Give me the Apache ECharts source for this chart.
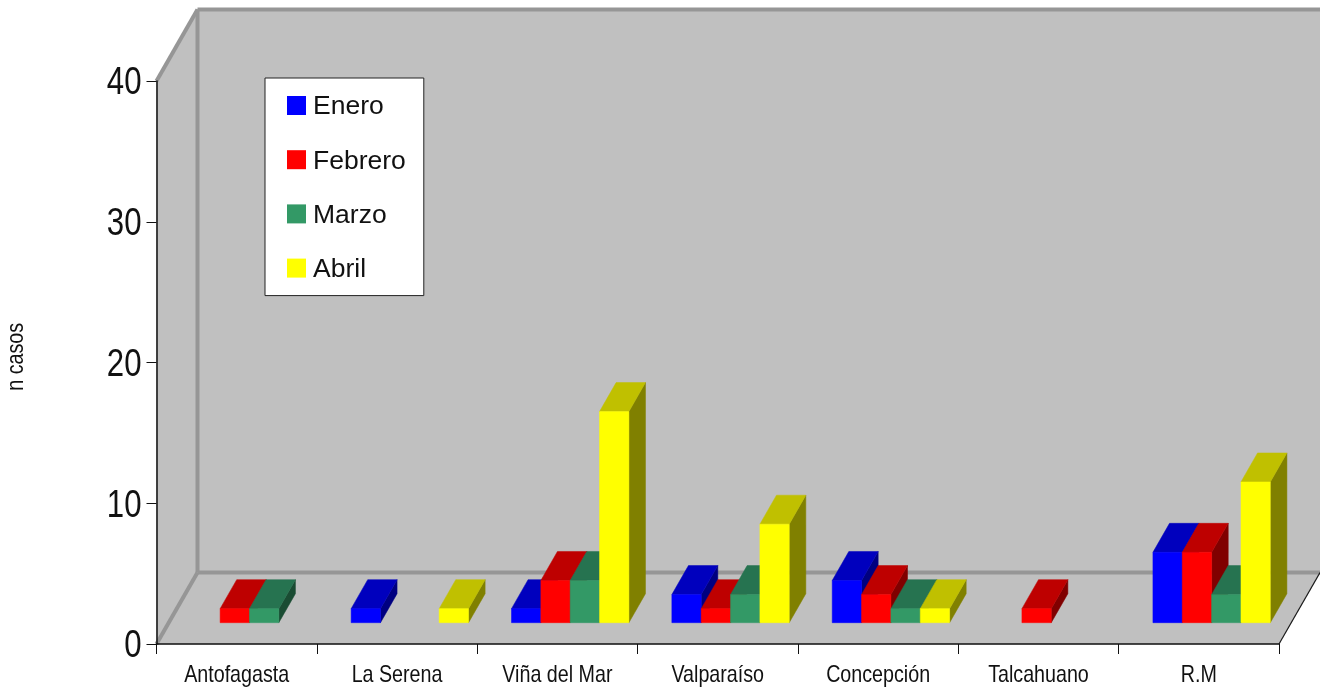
<!DOCTYPE html>
<html><head><meta charset="utf-8">
<style>html,body{margin:0;padding:0;background:#fff}#c{width:1320px;height:690px}</style>
<script src="https://cdn.jsdelivr.net/npm/echarts@6/dist/echarts.min.js"></script>
</head><body><div id="c"></div>
<script>
const categories = ['Antofagasta','La Serena','Viña del Mar','Valparaíso','Concepción','Talcahuano','R.M'];
const enero   = [0,1,1,2,3,0,5];
const febrero = [1,0,3,1,2,1,5];
const marzo   = [1,0,3,2,1,0,2];
const abril   = [0,1,15,7,1,0,10];
const seriesNames = ['Enero','Febrero','Marzo','Abril'];
const yTickLabels = ['0','10','20','30','40'];
const yTicks = {min:0,max:40,interval:10};
const yTitle = 'n casos';

const DEPTH = [41,-71.5], BAR_OFF = [12.8,-21.3], BAR_D = [16.6,-29], GROUP = 0.732;
const NARROW = 0.82;
const shade = [
  {front:'#0000FF',top:'#0000BE',side:'#000080'},
  {front:'#FF0000',top:'#BE0000',side:'#800000'},
  {front:'#339966',top:'#267350',side:'#1A4C33'},
  {front:'#FFFF00',top:'#C0C000',side:'#808000'}
];
function poly(pts,fill,z2){return {type:'polygon',z2:z2||0,shape:{points:pts},style:{fill:fill,stroke:fill,lineWidth:0.5}};}
function barSeries(name,vals,si){
  return {name:name,type:'custom',z:2,silent:true,
    itemStyle:{color:shade[si].front},
    encode:{x:0,y:1},
    data:vals.map((v,i)=>[i,v]),
    renderItem(params,api){
      const v=api.value(1); if(!v) return null;
      const cat=api.value(0), w=api.size([1,0])[0]*GROUP/4;
      const b=api.coord([cat,0]), t=api.coord([cat,v]);
      const x0=b[0]-2*w+si*w+BAR_OFF[0], x1=x0+w;
      const y0=b[1]+BAR_OFF[1], y1=t[1]+BAR_OFF[1];
      const c=shade[si], dx=BAR_D[0], dy=BAR_D[1];
      return {type:'group',children:[
        poly([[x1,y0],[x1+dx,y0+dy],[x1+dx,y1+dy],[x1,y1]],c.side),
        poly([[x0,y1],[x1,y1],[x1+dx,y1+dy],[x0+dx,y1+dy]],c.top),
        poly([[x0,y0],[x1,y0],[x1,y1],[x0,y1]],c.front)
      ]};
    }};
}
const wallSeries={type:'custom',z:1,silent:true,clip:false,data:[[0,0]],encode:{x:0,y:1},
  renderItem(params,api){
    const hw=api.size([1,0])[0]/2, n=categories.length;
    const p0=api.coord([0,yTicks.min]), p1=api.coord([0,yTicks.max]);
    const L=p0[0]-hw, R=L+hw*2*n, B=p0[1], T=p1[1], dx=DEPTH[0], dy=DEPTH[1];
    const W='#C0C0C0', G='#969696';
    const ln=(a,b,c,lw)=>({type:'line',shape:{x1:a[0],y1:a[1],x2:b[0],y2:b[1]},style:{stroke:c,lineWidth:lw}});
    return {type:'group',children:[
      poly([[L+dx,T+dy],[R+dx,T+dy],[R+dx,B+dy],[L+dx,B+dy]],W),
      poly([[L,T],[L+dx,T+dy],[L+dx,B+dy],[L,B]],W),
      poly([[L,B],[L+dx,B+dy],[R+dx,B+dy],[R,B]],W),
      ln([L,T],[L+dx,T+dy],G,4),
      ln([L+dx,T+dy],[R+dx,T+dy],G,4),
      ln([L+dx,T+dy],[L+dx,B+dy],G,4),
      ln([L,B],[L+dx,B+dy],G,4),
      ln([L+dx,B+dy],[R+dx,B+dy],G,4),
      ln([R,B],[R+dx,B+dy],'#1a1a1a',1.2)
    ]};
  }};
const chart=echarts.init(document.getElementById('c'),null,{renderer:'canvas'});
chart.setOption({
  animation:false,backgroundColor:'#fff',
  grid:{left:156.5,right:41,top:81,bottom:46,containLabel:false,outerBoundsMode:'none'},
  legend:{orient:'vertical',left:265,top:78,data:seriesNames,
    icon:'rect',itemWidth:19,itemHeight:19,itemGap:27.2,
    padding:[14,18,14,22],backgroundColor:'#fff',borderColor:'#222',borderWidth:1,selectedMode:false,
    textStyle:{fontFamily:'Liberation Sans',fontSize:26.5,color:'#111',padding:[0,0,0,2]}},
  xAxis:{type:'category',data:categories,z:3,boundaryGap:true,
    axisLine:{lineStyle:{color:'#111',width:1.5}},
    axisTick:{show:true,alignWithLabel:false,length:10,lineStyle:{color:'#111',width:1}},
    axisLabel:{fontFamily:'Liberation Sans',fontSize:24,color:'#111',margin:19,interval:0,hideOverlap:false},
    splitLine:{show:false}},
  yAxis:{type:'value',min:yTicks.min,max:yTicks.max,interval:yTicks.interval,z:3,
    name:yTitle,nameLocation:'middle',nameRotate:90,nameGap:128,
    nameTextStyle:{fontFamily:'Liberation Sans',fontSize:24,color:'#111',padding:[0,0,0,14]},
    axisLine:{show:true,lineStyle:{color:'#111',width:1.5}},
    axisTick:{show:true,length:10,lineStyle:{color:'#111',width:1}},
    axisLabel:{fontFamily:'Liberation Sans',fontSize:38,color:'#111',margin:15},
    splitLine:{show:false}},
  series:[wallSeries,barSeries(seriesNames[0],enero,0),barSeries(seriesNames[1],febrero,1),barSeries(seriesNames[2],marzo,2),barSeries(seriesNames[3],abril,3)]
});
// The reference's axis text is a condensed face, which is not installed: condense the axis labels.
const narrowTexts=new Set([...categories,yTitle,...yTickLabels]);
const zr=chart.getZr();
zr.storage.traverse(el=>{
  if(!el.style) return;
  const t=el.style.text;
  if(narrowTexts.has(t)){ el.scaleX=NARROW; el.markRedraw(); }
  if(yTickLabels.includes(t)){ el.y+=3; el.markRedraw(); }
  if(seriesNames.includes(t)){ el.y+=1.5; el.markRedraw(); }
});
zr.refreshImmediately();
</script></body></html>
